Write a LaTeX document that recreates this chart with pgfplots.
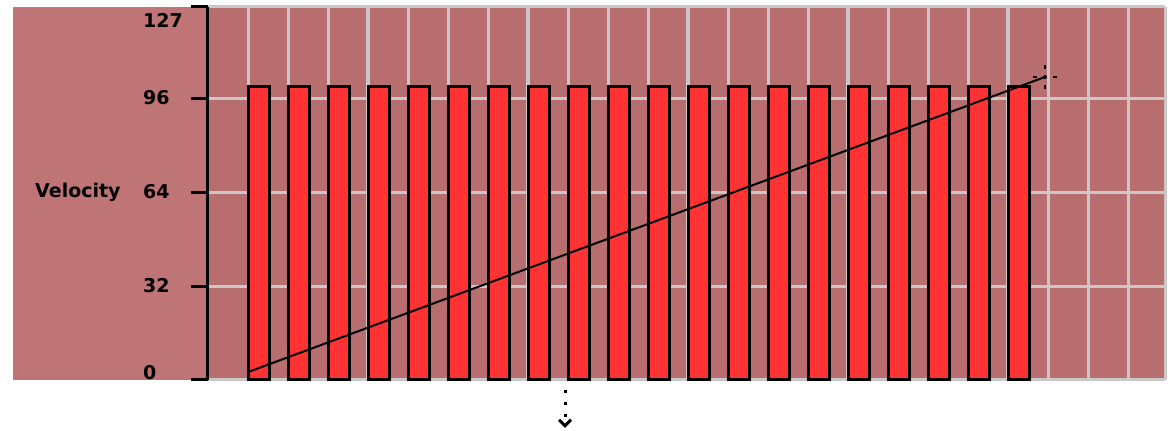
\documentclass[border=0pt]{standalone}
\usepackage{pgfplots}
\pgfplotsset{compat=1.18}
\usetikzlibrary{arrows.meta}
\usepackage{fontspec}
\setmainfont{DejaVu Sans}

\definecolor{panel}{RGB}{191,117,117}
\definecolor{plotbg}{RGB}{184,110,110}
\definecolor{gridc}{RGB}{205,198,198}
\definecolor{barred}{RGB}{255,51,51}

\begin{document}
\begin{tikzpicture}[x=1pt,y=1pt]
\useasboundingbox (0,0) rectangle (1173,431);
% left label panel
\fill[panel] (13,51) rectangle (208,424);
\begin{axis}[
    at={(208pt,51pt)}, anchor=south west,
    scale only axis, width=957pt, height=373pt,
    xmin=0, xmax=23.925, ymin=0, ymax=127,
    axis background/.style={fill=plotbg},
    axis y line*=left, axis x line*=bottom,
    x axis line style={draw=none},
    y axis line style={black, line width=3pt},
    xmajorgrids, ymajorgrids,
    grid style={gridc, line width=3pt},
    xtick={1,2,3,5,6,7,9,10,11,13,14,15,17,18,19,21,22,23,23.925},
    xticklabels={},
    extra x ticks={4,8,12,16,20},
    extra x tick labels={},
    extra x tick style={grid style={gridc, line width=4.5pt}},
    x tick style={draw=none},
    ytick={0,32,64,96,127},
    yticklabels={{\raisebox{7pt}[\height][\depth]{0}},32,64,96,{\raisebox{-13pt}[\height][\depth]{127}}},
    y tick style={black, line width=3pt},
    tick align=outside, major tick length=17pt,
    yticklabel style={anchor=west, inner sep=0pt, xshift=-48pt},
    tick label style={font=\fontsize{19}{19}\selectfont\bfseries},
    clip=false,
]
\addplot[ybar, bar width=0.525, bar shift=0pt, fill=barred, draw=black, line width=3pt] coordinates {
    (1.2625,100) (2.2625,100) (3.2625,100) (4.2625,100) (5.2625,100)
    (6.2625,100) (7.2625,100) (8.2625,100) (9.2625,100) (10.2625,100)
    (11.2625,100) (12.2625,100) (13.2625,100) (14.2625,100) (15.2625,100)
    (16.2625,100) (17.2625,100) (18.2625,100) (19.2625,100) (20.2625,100)
};
\addplot[black, line width=2pt] coordinates {(1,2.7) (20.93,103.2)};
\addplot[only marks, mark=+, mark size=12pt,
    mark options={black, line width=2.5pt, dash pattern=on 4pt off 6pt}]
    coordinates {(20.93,103.2)};
\node[anchor=west, inner sep=0pt, font=\fontsize{19}{19}\selectfont\bfseries]
    at (axis cs:0,64) [xshift=-173pt] {Velocity};
\draw[black, line width=3pt, dash pattern=on 3pt off 9pt, -{Straight Barb[length=6pt,width=12pt]}]
    (axis cs:8.925,-3.4) -- (axis cs:8.925,-16.3);
\end{axis}
\end{tikzpicture}
\end{document}
